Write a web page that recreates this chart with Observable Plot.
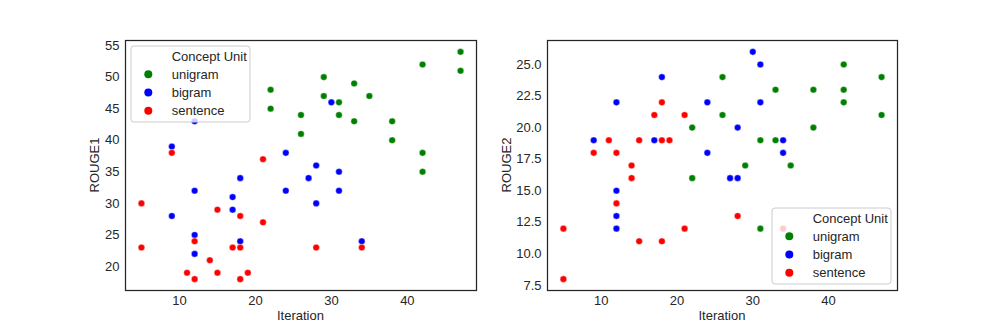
<!DOCTYPE html>
<html><head><meta charset="utf-8">
<script src="https://cdn.jsdelivr.net/npm/d3@7"></script>
<script src="https://cdn.jsdelivr.net/npm/@observablehq/plot@0.6"></script>
<style>
html,body{margin:0;padding:0;background:#fff;}
#wrap{position:relative;width:997px;height:332px;overflow:hidden;background:#fff;}
#wrap svg{position:absolute;top:0;}
</style></head><body><div id="wrap"></div>
<script>
const seriesNames = ["unigram", "bigram", "sentence"];
const seriesColors = ["#008000", "#0000ff", "#ff0000"];
const legendTitle = "Concept Unit";
const xLabel = "Iteration";
const xTicks = [10, 20, 30, 40];
const rouge1Ticks = [20, 25, 30, 35, 40, 45, 50, 55];
const rouge2Ticks = [7.5, 10, 12.5, 15, 17.5, 20, 22.5, 25];

// ROUGE1 panel: [iteration, score]
const rouge1Unigram = [[22,48],[22,45],[26,44],[26,41],[29,50],[33,49],[29,47],[35,47],[31,46],[31,44],[33,43],[38,43],[38,40],[42,38],[42,35],[42,52],[47,54],[47,51]];
const rouge1Bigram = [[12,43],[9,39],[24,38],[28,36],[18,34],[27,34],[12,32],[17,31],[24,32],[28,30],[17,29],[9,28],[12,25],[18,24],[12,22],[30,46],[31,35],[31,32],[34,24]];
const rouge1Sentence = [[9,38],[21,37],[5,30],[15,29],[18,28],[21,27],[12,24],[5,23],[17,23],[18,23],[28,23],[14,21],[11,19],[15,19],[19,19],[12,18],[18,18],[34,23]];

// ROUGE2 panel
const rouge2Unigram = [[26,24],[33,23],[26,21],[22,20],[31,19],[33,19],[29,17],[22,16],[31,12],[42,25],[47,24],[38,23],[42,23],[42,22],[47,21],[38,20],[35,17]];
const rouge2Bigram = [[30,26],[31,25],[18,24],[12,22],[24,22],[31,22],[28,20],[9,19],[17,19],[24,18],[27,16],[28,16],[12,15],[12,13],[12,12],[34,19],[34,18]];
const rouge2Sentence = [[5,12],[5,8],[18,22],[17,21],[21,21],[11,19],[15,19],[18,19],[19,19],[9,18],[12,18],[14,17],[14,16],[12,14],[28,13],[21,12],[15,11],[18,11],[34,12]];

const FONT = "'Liberation Sans', Arial, 'DejaVu Sans', sans-serif";
const INK = "#262626";

function padded(vals) {
  const [a, b] = d3.extent(vals);
  const p = (b - a) * 0.05;
  return [a - p, b + p];
}

function panel(opts) {
  const rows = [];
  opts.series.forEach((s, i) => s.forEach(([x, y]) => rows.push({x, y, unit: seriesNames[i]})));
  const W = opts.width, H = 332;
  const mt = 40, mb = 42;
  const svg = Plot.plot({
    width: W, height: H,
    marginLeft: opts.ml, marginRight: opts.mr, marginTop: mt, marginBottom: mb,
    style: {fontFamily: FONT, fontSize: "13px", color: INK, background: "white"},
    x: {domain: padded(rows.map(d => d.x))},
    y: {domain: padded(rows.map(d => d.y))},
    color: {domain: seriesNames, range: seriesColors},
    marks: [
      Plot.axisX({ticks: xTicks, tickSize: 0, tickPadding: 5, label: null, fontSize: 13, fill: INK}),
      Plot.axisY({ticks: opts.yTicks, tickSize: 0, tickPadding: 6, label: null, fontSize: 13, fill: INK, tickFormat: opts.yFormat}),
      Plot.dot(rows, {x: "x", y: "y", fill: "unit", r: 3.3, stroke: "white", strokeWidth: 0.4}),
      Plot.frame({stroke: INK, strokeWidth: 1.25})
    ]
  });
  svg.style.left = opts.left + "px";
  const g = d3.select(svg);
  const fx0 = opts.ml, fx1 = W - opts.mr, fy0 = mt, fy1 = H - mb;
  // axis labels
  g.append("text").attr("x", (fx0 + fx1) / 2).attr("y", 315).attr("dy", "0.35em")
    .attr("text-anchor", "middle").attr("fill", INK).style("font-size", "13px").text(xLabel);
  g.append("text").attr("transform", `translate(${opts.ylx},${(fy0 + fy1) / 2}) rotate(-90)`).attr("dy", "0.35em")
    .attr("text-anchor", "middle").attr("fill", INK).style("font-size", "13px").text(opts.yLabel);
  // legend
  const bw = 119, bh = 76;
  const bx = opts.legend === "tl" ? fx0 + 6 : fx1 - 6 - bw;
  const by = opts.legend === "tl" ? fy0 + 6 : fy1 - 6 - bh;
  const lg = g.append("g");
  lg.append("rect").attr("x", bx).attr("y", by).attr("width", bw).attr("height", bh).attr("rx", 3)
    .attr("fill", "white").attr("fill-opacity", 0.8).attr("stroke", "#cccccc").attr("stroke-width", 1);
  lg.append("text").attr("x", bx + 40.7).attr("y", by + 10.3).attr("dy", "0.35em").attr("fill", INK)
    .attr("text-anchor", "start").style("font-size", "13px").text(legendTitle);
  seriesNames.forEach((n, i) => {
    const yy = by + 28.3 + i * 18.2;
    lg.append("circle").attr("cx", bx + 17.3).attr("cy", yy).attr("r", 4).attr("fill", seriesColors[i]);
    lg.append("text").attr("x", bx + 40.7).attr("y", yy).attr("dy", "0.35em").attr("fill", INK)
      .attr("text-anchor", "start").style("font-size", "13px").text(n);
  });
  document.getElementById("wrap").appendChild(svg);
}

panel({series: [rouge1Unigram, rouge1Bigram, rouge1Sentence], width: 498, left: 0, ml: 125, mr: 22,
  yTicks: rouge1Ticks, yFormat: d3.format("d"), yLabel: "ROUGE1", ylx: 94, legend: "tl"});
panel({series: [rouge2Unigram, rouge2Bigram, rouge2Sentence], width: 499, left: 498, ml: 49, mr: 100,
  yTicks: rouge2Ticks, yFormat: d3.format(".1f"), yLabel: "ROUGE2", ylx: 8, legend: "br"});
</script></body></html>
